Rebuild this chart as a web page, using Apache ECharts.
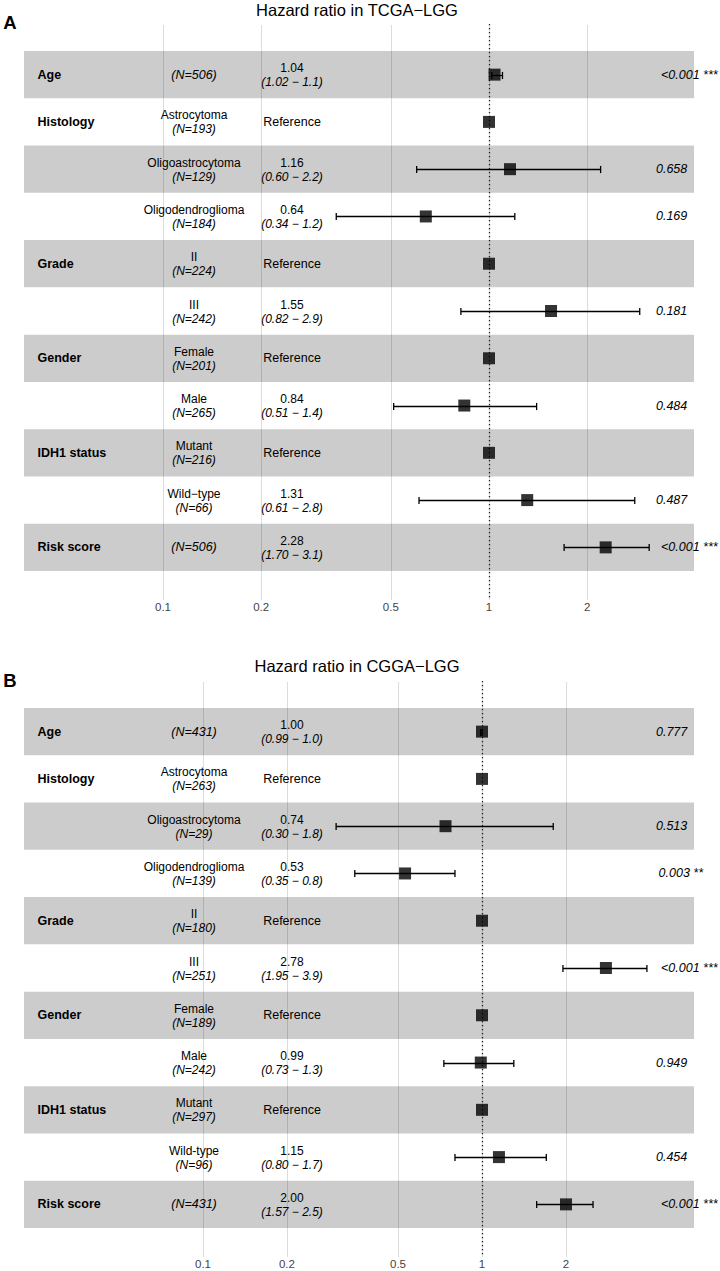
<!DOCTYPE html>
<html>
<head>
<meta charset="utf-8">
<script src="https://cdn.jsdelivr.net/npm/echarts@6/dist/echarts.min.js"></script>
<style>
html,body{margin:0;padding:0;background:#fff;}
#c{width:720px;height:1271px;}
</style>
</head>
<body>
<div id="c"></div>
<script>
// ---------- data ----------
const ticks = [0.1, 0.2, 0.5, 1, 2];
const varNames = ['Age', 'Histology', '', '', 'Grade', '', 'Gender', '', 'IDH1 status', '', 'Risk score'];

const levelsTCGA = ['', 'Astrocytoma', 'Oligoastrocytoma', 'Oligodendroglioma', 'II', 'III', 'Female', 'Male', 'Mutant', 'Wild\u2212type', ''];
const nTCGA = [506, 193, 129, 184, 224, 242, 201, 265, 216, 66, 506];
const hrTCGA = ['1.04', null, '1.16', '0.64', null, '1.55', null, '0.84', null, '1.31', '2.28'];
const loTCGA = ['1.02', null, '0.60', '0.34', null, '0.82', null, '0.51', null, '0.61', '1.70'];
const hiTCGA = ['1.1', null, '2.2', '1.2', null, '2.9', null, '1.4', null, '2.8', '3.1'];
const pTCGA = ['<0.001 ***', '', '0.658', '0.169', '', '0.181', '', '0.484', '', '0.487', '<0.001 ***'];

const levelsCGGA = ['', 'Astrocytoma', 'Oligoastrocytoma', 'Oligodendroglioma', 'II', 'III', 'Female', 'Male', 'Mutant', 'Wild-type', ''];
const nCGGA = [431, 263, 29, 139, 180, 251, 189, 242, 297, 96, 431];
const hrCGGA = ['1.00', null, '0.74', '0.53', null, '2.78', null, '0.99', null, '1.15', '2.00'];
const loCGGA = ['0.99', null, '0.30', '0.35', null, '1.95', null, '0.73', null, '0.80', '1.57'];
const hiCGGA = ['1.0', null, '1.8', '0.8', null, '3.9', null, '1.3', null, '1.7', '2.5'];
const pCGGA = ['0.777', '', '0.513', '0.003 **', '', '<0.001 ***', '', '0.949', '', '0.454', '<0.001 ***'];

// ---------- layout ----------
const FONT = '"Liberation Sans", Arial, Helvetica, sans-serif';
const FS = 12.5;
const FS2 = 12;
const panels = [
  { letter: 'A', title: 'Hazard ratio in TCGA\u2212LGG', top: 51, xmin: 0.037466, xmax: 4.2548,
    titleY: 9.5, letterY: 22.7,
    levels: levelsTCGA, n: nTCGA, hr: hrTCGA, lo: loTCGA, hi: hiTCGA, p: pTCGA },
  { letter: 'B', title: 'Hazard ratio in CGGA\u2212LGG', top: 708, xmin: 0.022832, xmax: 5.7514,
    titleY: 666, letterY: 680,
    levels: levelsCGGA, n: nCGGA, hr: hrCGGA, lo: loCGGA, hi: hiCGGA, p: pCGGA }
];
const GRID_LEFT = 24, GRID_W = 670, GRID_H = 520;
const COL_VAR = 13.5, COL_LEVEL = 170, COL_HR = 268, COL_P = 625;

const measureCtx = document.createElement('canvas').getContext('2d');
function textWidth(str, font) { measureCtx.font = font; return measureCtx.measureText(str).width; }

const rows = varNames.map((v, k) => k + 1);

const RICH = {
  n: { fontSize: FS2, fontFamily: FONT, fill: '#000', lineHeight: 14 },
  i: { fontSize: FS2, fontFamily: FONT, fill: '#000', fontStyle: 'italic', lineHeight: 14 }
};

function txt(x, y, text, opts) {
  return {
    type: 'text', x: x, y: y,
    style: Object.assign({
      text: text, fill: '#000', fontSize: FS, fontFamily: FONT,
      align: 'center', verticalAlign: 'middle'
    }, opts || {})
  };
}
function twoLine(x, y, top, bottom) {
  return {
    type: 'text', x: x, y: y + 0.5,
    style: {
      text: '{n|' + top + '}\n{i|' + bottom + '}', rich: RICH,
      align: 'center', verticalAlign: 'middle'
    }
  };
}

const grids = [], xAxes = [], yAxes = [], series = [], graphics = [];

panels.forEach((P, i) => {
  grids.push({ left: GRID_LEFT, width: GRID_W, top: P.top, height: GRID_H });
  xAxes.push({
    type: 'log', logBase: 10, gridIndex: i, min: P.xmin, max: P.xmax,
    axisLine: { show: false }, axisTick: { show: false }, splitLine: { show: false }, minorSplitLine: { show: false },
    axisLabel: {
      customValues: ticks, margin: 30, color: '#444', fontSize: 11.5, fontFamily: FONT,
      formatter: v => String(+Number(v).toPrecision(6))
    }
  });
  yAxes.push({ type: 'value', gridIndex: i, min: 0.5, max: 11.5, inverse: true, show: false });

  // grid lines
  series.push({
    type: 'custom', xAxisIndex: i, yAxisIndex: i, silent: true, z: 1, clip: false,
    data: ticks.map(t => [t, 1]),
    renderItem(params, api) {
      const cs = params.coordSys;
      const x = Math.round(api.coord([api.value(0), 1])[0]) + 0.5;
      return { type: 'line', shape: { x1: x, y1: cs.y - 26, x2: x, y2: cs.y + cs.height + 29 },
        style: { stroke: '#dcdcdc', lineWidth: 1 } };
    }
  });
  // shaded bands
  series.push({
    type: 'custom', xAxisIndex: i, yAxisIndex: i, silent: true, z: 2, clip: false,
    data: rows.filter(r => r % 2 === 1).map(r => [1, r]),
    renderItem(params, api) {
      const cs = params.coordSys;
      const r = api.value(1);
      const y0 = api.coord([1, r - 0.5])[1], y1 = api.coord([1, r + 0.5])[1];
      return { type: 'rect', shape: { x: cs.x, y: y0, width: cs.width, height: y1 - y0 },
        style: { fill: 'rgba(0,0,0,0.2)' } };
    }
  });
  // reference dotted line at HR = 1
  series.push({
    type: 'custom', xAxisIndex: i, yAxisIndex: i, silent: true, z: 3, clip: false,
    data: [[1, 1]],
    renderItem(params, api) {
      const cs = params.coordSys;
      const x = Math.round(api.coord([api.value(0), 1])[0]) + 0.5;
      return { type: 'line', shape: { x1: x, y1: cs.y - 27, x2: x, y2: cs.y + cs.height + 29 },
        style: { stroke: '#222', lineWidth: 1.3, lineDash: [1.3, 2.7] } };
    }
  });
  // error bars
  series.push({
    type: 'custom', xAxisIndex: i, yAxisIndex: i, silent: true, z: 4, clip: false,
    encode: { x: [0, 1], y: 2 },
    data: rows.filter(r => P.lo[r - 1] !== null).map(r => [+P.lo[r - 1], +P.hi[r - 1], r]),
    renderItem(params, api) {
      const a = api.coord([api.value(0), api.value(2)]);
      const b = api.coord([api.value(1), api.value(2)]);
      const yy = Math.round(a[1]) + 0.5;
      const h = 3.6, st = { stroke: '#000', lineWidth: 1.3 };
      return { type: 'group', children: [
        { type: 'line', shape: { x1: a[0], y1: yy, x2: b[0], y2: yy }, style: st },
        { type: 'line', shape: { x1: a[0], y1: yy - h, x2: a[0], y2: yy + h }, style: st },
        { type: 'line', shape: { x1: b[0], y1: yy - h, x2: b[0], y2: yy + h }, style: st }
      ] };
    }
  });
  // points
  series.push({
    type: 'scatter', xAxisIndex: i, yAxisIndex: i, silent: true, z: 5,
    symbol: 'rect', symbolSize: 12, itemStyle: { color: '#000' },
    data: rows.map(r => [P.hr[r - 1] === null ? 1 : +P.hr[r - 1], r])
  });
  // text columns
  series.push({
    type: 'custom', xAxisIndex: i, yAxisIndex: i, silent: true, z: 6, clip: false,
    data: rows.map(r => [1, r]),
    renderItem(params, api) {
      const cs = params.coordSys;
      const k = params.dataIndex;
      const y = api.coord([1, api.value(1)])[1];
      const ch = [];
      if (varNames[k]) ch.push(txt(cs.x + COL_VAR, y, varNames[k], { align: 'left', fontWeight: 'bold' }));
      const nStr = '(N=' + P.n[k] + ')';
      if (P.levels[k]) {
        ch.push(twoLine(cs.x + COL_LEVEL, y, P.levels[k], nStr));
      } else {
        ch.push(txt(cs.x + COL_LEVEL, y, nStr, { fontStyle: 'italic' }));
      }
      if (P.hr[k] === null) {
        ch.push(txt(cs.x + COL_HR, y, 'Reference'));
      } else {
        ch.push(twoLine(cs.x + COL_HR, y, P.hr[k], '(' + P.lo[k] + ' \u2212 ' + P.hi[k] + ')'));
      }
      if (P.p[k]) {
        const w = textWidth(P.p[k] + ' ', 'italic ' + FS + 'px ' + FONT);
        ch.push(txt(cs.x + COL_P + 0.2 * w, y, P.p[k], { fontStyle: 'italic', align: 'left' }));
      }
      return { type: 'group', children: ch };
    }
  });

  graphics.push({ type: 'text', x: 357, y: P.titleY, silent: true,
    style: { text: P.title, fill: '#000', fontSize: 16.5, fontFamily: FONT, align: 'center', verticalAlign: 'middle' } });
  graphics.push({ type: 'text', x: 3.3, y: P.letterY, silent: true,
    style: { text: P.letter, fill: '#000', fontSize: 18.5, fontWeight: 'bold', fontFamily: FONT, align: 'left', verticalAlign: 'middle' } });
});

const chart = echarts.init(document.getElementById('c'), null, { renderer: 'svg' });
chart.setOption({
  animation: false,
  backgroundColor: '#fff',
  grid: grids,
  xAxis: xAxes,
  yAxis: yAxes,
  series: series,
  graphic: graphics
});
</script>
</body>
</html>
